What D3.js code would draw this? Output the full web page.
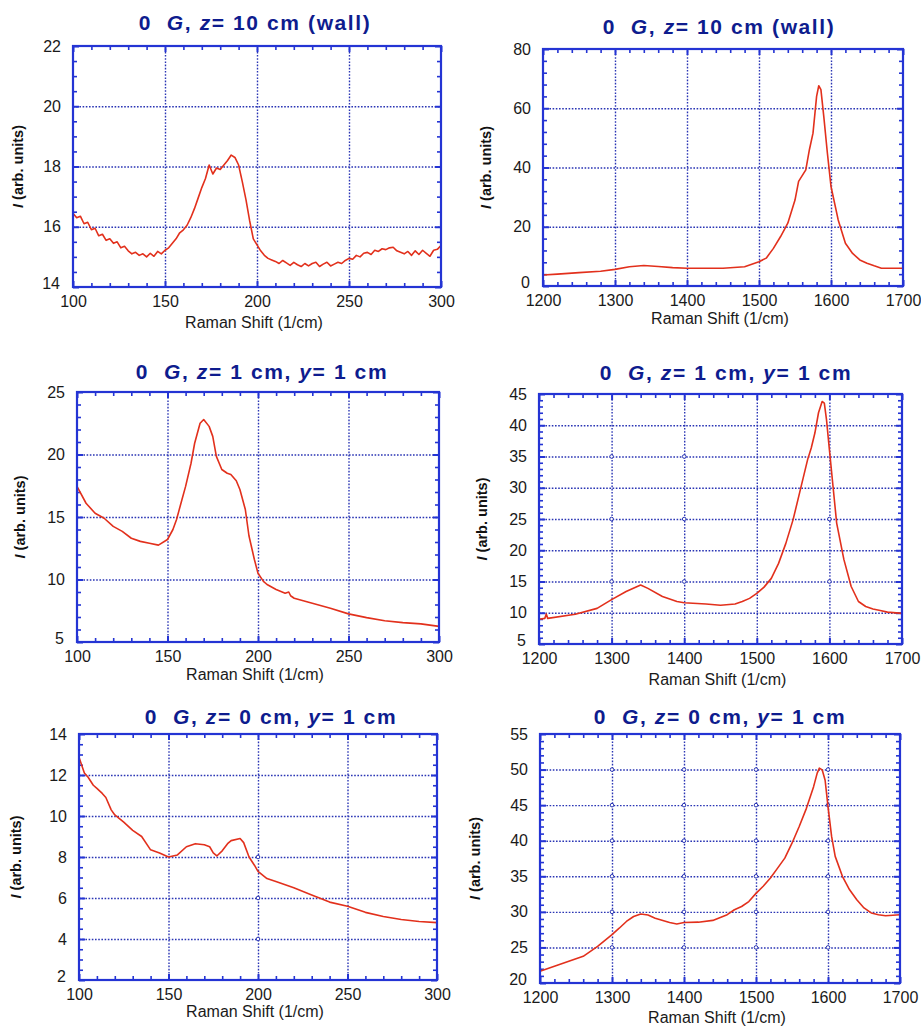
<!DOCTYPE html>
<html>
<head>
<meta charset="utf-8">
<script src="https://cdn.jsdelivr.net/npm/d3@7"></script>
<style>
  body { margin: 0; background: #fff; }
  svg { display: block; font-family: "Liberation Sans", Arial, sans-serif; }
</style>
</head>
<body>
<div id="chart"></div>
<script>
// Spectra: [Raman shift (1/cm), intensity (arb. units)]
const lowWall = [[100,16.45],[102,16.3],[104,16.35],[106,16.1],[108,16.15],[110,15.9],[112,15.95],[114,15.7],[116,15.75],[118,15.55],
  [120,15.6],[122,15.45],[124,15.5],[126,15.3],[128,15.35],[130,15.2],[132,15.1],[134,15.15],[136,15.05],[138,15.1],
  [140,15.0],[142,15.12],[144,15.02],[146,15.18],[148,15.1],[150,15.22],[152,15.3],[154,15.45],[156,15.6],[158,15.8],
  [160,15.9],[162,16.05],[164,16.3],[166,16.6],[168,16.95],[170,17.3],[172,17.6],[174,18.05],[176,17.75],[178,17.95],
  [180,17.9],[182,18.05],[184,18.2],[186,18.38],[188,18.3],[190,18.05],[192,17.5],[194,16.9],[196,16.2],[198,15.6],
  [200,15.4],[202,15.2],[204,15.05],[206,14.95],[208,14.9],[210,14.85],[212,14.78],[214,14.88],[216,14.8],[218,14.72],
  [220,14.82],[222,14.74],[224,14.68],[226,14.78],[228,14.7],[230,14.78],[232,14.82],[234,14.68],[236,14.76],[238,14.82],
  [240,14.7],[242,14.76],[244,14.82],[246,14.78],[248,14.88],[250,14.95],[252,14.92],[254,15.05],[256,15.0],[258,15.12],
  [260,15.15],[262,15.08],[264,15.22],[266,15.18],[268,15.27],[270,15.24],[272,15.3],[274,15.32],[276,15.2],[278,15.15],
  [280,15.1],[282,15.18],[284,15.05],[286,15.2],[288,15.08],[290,15.22],[292,15.12],[294,15.02],[296,15.22],[298,15.25],[300,15.38]];

const highWall = [[1200,3.7],[1220,4.0],[1250,4.5],[1280,5.0],[1300,5.6],[1320,6.5],[1340,6.9],[1360,6.6],[1380,6.2],
  [1400,6.0],[1430,6.0],[1450,6.0],[1480,6.5],[1500,8.2],[1510,9.4],[1520,12.7],[1530,16.7],[1540,21.2],[1550,29],
  [1555,35.3],[1565,39.2],[1570,46],[1575,51.6],[1580,64],[1583,67.6],[1586,66.3],[1590,57.2],[1595,44.8],[1600,33.6],
  [1610,22.3],[1620,14.4],[1630,11],[1640,8.8],[1650,7.7],[1660,6.8],[1670,6.0],[1700,6.0]];

const lowZ1 = [[100,17.45],[105,16.1],[110,15.3],[115,14.9],[120,14.25],[125,13.85],[130,13.3],[135,13.05],[140,12.9],
  [145,12.75],[150,13.2],[153,14.0],[155,14.8],[158,16.4],[160,17.45],[163,19.3],[165,20.9],[168,22.5],[170,22.8],
  [173,22.25],[175,21.45],[177,19.85],[180,18.8],[183,18.5],[185,18.4],[188,17.9],[190,17.2],[193,15.6],[195,13.5],
  [198,11.6],[200,10.5],[203,9.85],[205,9.6],[210,9.2],[215,8.9],[217,9.0],[218,8.7],[220,8.5],[225,8.3],[230,8.1],
  [240,7.7],[250,7.25],[260,6.95],[270,6.7],[280,6.55],[290,6.45],[300,6.25]];

const highZ1 = [[1200,8.95],[1208,9.1],[1210,9.8],[1212,9.1],[1250,9.75],[1280,10.7],[1300,12.1],[1320,13.4],[1340,14.45],
  [1350,13.9],[1370,12.6],[1390,11.8],[1400,11.6],[1430,11.4],[1450,11.2],[1470,11.4],[1480,11.8],[1490,12.3],[1500,13.1],
  [1510,14.1],[1520,15.5],[1530,17.9],[1540,21.1],[1550,24.9],[1560,29.7],[1570,34.5],[1575,36.35],[1580,38.75],[1585,42],
  [1590,43.8],[1593,43.55],[1596,40.9],[1600,36.1],[1605,30.2],[1610,24.35],[1620,18.5],[1630,14.2],[1640,11.8],[1650,11.0],
  [1660,10.6],[1670,10.35],[1680,10.1],[1700,9.9]];

const lowZ0 = [[100,12.86],[103,12.1],[105,11.9],[108,11.5],[110,11.35],[113,11.1],[115,10.9],[118,10.3],[120,10.05],
  [125,9.7],[130,9.3],[135,9.0],[140,8.35],[145,8.2],[150,8.0],[155,8.1],[160,8.5],[165,8.65],[170,8.6],[173,8.5],
  [175,8.2],[177,8.05],[180,8.3],[183,8.65],[185,8.8],[190,8.9],[192,8.7],[195,8.0],[198,7.6],[200,7.3],[205,6.95],
  [210,6.8],[220,6.5],[230,6.15],[240,5.8],[250,5.6],[255,5.45],[260,5.3],[270,5.1],[280,4.95],[290,4.85],[300,4.8]];

const highZ0 = [[1200,21.65],[1220,22.35],[1240,23.05],[1260,23.75],[1280,25.15],[1300,26.8],[1310,27.7],[1320,28.65],
  [1330,29.35],[1340,29.7],[1350,29.55],[1360,29.1],[1380,28.5],[1390,28.3],[1400,28.5],[1420,28.55],[1440,28.8],
  [1460,29.6],[1470,30.3],[1480,30.75],[1490,31.45],[1500,32.6],[1510,33.6],[1520,34.75],[1530,36.15],[1540,37.55],
  [1550,39.65],[1560,42],[1570,44.55],[1580,47.6],[1585,49.5],[1588,50.2],[1592,49.95],[1596,48.5],[1600,44.8],
  [1605,40.6],[1610,37.8],[1620,35],[1630,33.1],[1640,31.7],[1650,30.55],[1660,29.85],[1670,29.6],[1680,29.45],[1700,29.6]];

// Tick labels
const lowShiftTicks = [100, 150, 200, 250, 300];
const highShiftTicks = [1200, 1300, 1400, 1500, 1600, 1700];
const yTicksLowWall = [14, 16, 18, 20, 22];
const yTicksHighWall = [0, 20, 40, 60, 80];
const yTicksLowZ1 = [5, 10, 15, 20, 25];
const yTicksHighZ1 = [5, 10, 15, 20, 25, 30, 35, 40, 45];
const yTicksLowZ0 = [2, 4, 6, 8, 10, 12, 14];
const yTicksHighZ0 = [20, 25, 30, 35, 40, 45, 50, 55];

// Titles: [text, italic?]
const titleWall = [["0  ", false], ["G", true], [", ", false], ["z", true], ["= 10 cm (wall)", false]];
const titleZ1 = [["0  ", false], ["G", true], [", ", false], ["z", true], ["= 1 cm, ", false], ["y", true], ["= 1 cm", false]];
const titleZ0 = [["0  ", false], ["G", true], [", ", false], ["z", true], ["= 0 cm, ", false], ["y", true], ["= 1 cm", false]];

const xLabel = "Raman Shift (1/cm)";

const frameColor = "#2434d4", gridColor = "#2a35b4", titleColor = "#0e1c8e", lineColor = "#e2301c";

const panels = [
  {data: lowWall, xt: lowShiftTicks, yt: yTicksLowWall, title: titleWall, box: [73, 441, 46, 287], xMin: 10, yMin: 0.5, tc: [255, 30], lx: 18, xl: 328, marks: []},
  {data: highWall, xt: highShiftTicks, yt: yTicksHighWall, title: titleWall, box: [543, 903, 49, 286], xMin: 20, yMin: 4, tc: [719, 34], lx: 486, xl: 324, marks: []},
  {data: lowZ1, xt: lowShiftTicks, yt: yTicksLowZ1, title: titleZ1, box: [77, 439, 392, 642], xMin: 10, yMin: 1, tc: [262, 379], lx: 20, xl: 680, marks: []},
  {data: highZ1, xt: highShiftTicks, yt: yTicksHighZ1, title: titleZ1, box: [539, 902, 394, 644], xMin: 20, yMin: 1, tc: [726, 380], lx: 482, xl: 685,
    marks: [[1300,35],[1400,35],[1300,25],[1400,25],[1600,25],[1300,15],[1400,15],[1600,15]]},
  {data: lowZ0, xt: lowShiftTicks, yt: yTicksLowZ0, title: titleZ0, box: [79, 437, 734, 980], xMin: 10, yMin: 0.5, tc: [271, 724], lx: 16, xl: 1017,
    marks: [[200,8],[200,6],[200,4]]},
  {data: highZ0, xt: highShiftTicks, yt: yTicksHighZ0, title: titleZ0, box: [540, 900, 734, 983], xMin: 20, yMin: 1, tc: [720, 724], lx: 475, xl: 1023,
    marks: d3.cross([1300, 1400, 1500, 1600], [25, 30, 35, 40, 45, 50])}
];

const svg = d3.select("#chart").append("svg")
  .attr("width", 921)
  .attr("height", 1027);

panels.forEach(p => {
  const [l, r, t, b] = p.box;
  const x = d3.scaleLinear().domain(d3.extent(p.xt)).range([l, r]);
  const y = d3.scaleLinear().domain(d3.extent(p.yt)).range([b, t]);
  const g = svg.append("g");

  const xMinor = d3.range(x.domain()[0], x.domain()[1] + 1e-9, p.xMin).filter(v => !p.xt.includes(v));
  const yMinor = d3.range(y.domain()[0], y.domain()[1] + 1e-9, p.yMin).filter(v => !p.yt.some(m => Math.abs(m - v) < 1e-6));

  const clean = s => s.select(".domain").remove();

  // dotted grid at the inner major ticks
  g.append("g").attr("transform", `translate(0,${b})`)
    .call(d3.axisBottom(x).tickValues(p.xt.slice(1, -1)).tickSize(-(b - t)).tickFormat(""))
    .call(clean)
    .selectAll("line").attr("stroke", gridColor).attr("stroke-width", 1.4).attr("stroke-dasharray", "1.6,1.6");
  g.append("g").attr("transform", `translate(${l},0)`)
    .call(d3.axisLeft(y).tickValues(p.yt.slice(1, -1)).tickSize(-(r - l)).tickFormat(""))
    .call(clean)
    .selectAll("line").attr("stroke", gridColor).attr("stroke-width", 1.4).attr("stroke-dasharray", "1.6,1.6");

  g.selectAll("circle.mark").data(p.marks).join("circle")
    .attr("class", "mark")
    .attr("cx", d => x(d[0])).attr("cy", d => y(d[1])).attr("r", 1.8)
    .attr("fill", "#fff").attr("stroke", gridColor).attr("stroke-width", 1);

  // inward ticks on all four sides
  const tickSets = [
    [d3.axisBottom, `translate(0,${b})`, x],
    [d3.axisTop, `translate(0,${t})`, x],
    [d3.axisLeft, `translate(${l},0)`, y],
    [d3.axisRight, `translate(${r},0)`, y]
  ];
  tickSets.forEach(([ax, tr, sc]) => {
    const minor = sc === x ? xMinor : yMinor;
    const major = sc === x ? p.xt : p.yt;
    g.append("g").attr("transform", tr)
      .call(ax(sc).tickValues(minor).tickSize(-4).tickFormat(""))
      .call(clean)
      .selectAll("line").attr("stroke", frameColor).attr("stroke-width", 1.6);
    g.append("g").attr("transform", tr)
      .call(ax(sc).tickValues(major).tickSize(-6).tickFormat(""))
      .call(clean)
      .selectAll("line").attr("stroke", frameColor).attr("stroke-width", 2);
  });

  // the spectrum
  const line = d3.line().x(d => x(d[0])).y(d => y(d[1]));
  g.append("path")
    .datum(p.data)
    .attr("fill", "none")
    .attr("stroke", lineColor)
    .attr("stroke-width", 1.6)
    .attr("stroke-linejoin", "round")
    .attr("d", line);

  // frame
  g.append("rect")
    .attr("x", l).attr("y", t).attr("width", r - l).attr("height", b - t)
    .attr("fill", "none").attr("stroke", frameColor).attr("stroke-width", 2.2);

  // tick labels
  const xa = g.append("g").attr("transform", `translate(0,${b})`)
    .call(d3.axisBottom(x).tickValues(p.xt).tickSize(0).tickPadding(9).tickFormat(d3.format("d")))
    .call(clean);
  xa.selectAll("text").attr("font-size", 16).attr("fill", "#1a1a1a").attr("font-family", "Liberation Sans, Arial, sans-serif");
  const ya = g.append("g").attr("transform", `translate(${l},0)`)
    .call(d3.axisLeft(y).tickValues(p.yt).tickSize(0).tickPadding(12).tickFormat(d3.format("d")))
    .call(clean);
  ya.selectAll("text").attr("font-size", 16).attr("fill", "#1a1a1a").attr("font-family", "Liberation Sans, Arial, sans-serif");
  // lowest y label sits just above the corner, clear of the x labels
  ya.selectAll("text").filter(d => d === p.yt[0]).attr("y", -4).attr("x", -13);

  // x axis title
  g.append("text")
    .attr("x", (l + r) / 2 - 3).attr("y", p.xl)
    .attr("text-anchor", "middle")
    .attr("font-size", 16)
    .attr("fill", "#1a1a1a")
    .text(xLabel);

  // y axis title
  const yl = g.append("text")
    .attr("transform", `translate(${p.lx + 5},${(t + b) / 2}) rotate(-90)`)
    .attr("text-anchor", "middle")
    .attr("font-size", 14.5)
    .attr("font-weight", "bold")
    .attr("fill", "#111");
  yl.append("tspan").attr("font-style", "italic").text("I");
  yl.append("tspan").text(" (arb. units)");

  // panel title
  const tt = g.append("text")
    .attr("x", p.tc[0]).attr("y", p.tc[1])
    .attr("text-anchor", "middle")
    .attr("font-size", 21)
    .attr("font-weight", "bold")
    .attr("letter-spacing", 1.6)
    .attr("fill", titleColor)
    .attr("xml:space", "preserve")
    .style("white-space", "pre");
  p.title.forEach(([s, it]) => {
    tt.append("tspan").attr("font-style", it ? "italic" : "normal").text(s);
  });
});
</script>
</body>
</html>
